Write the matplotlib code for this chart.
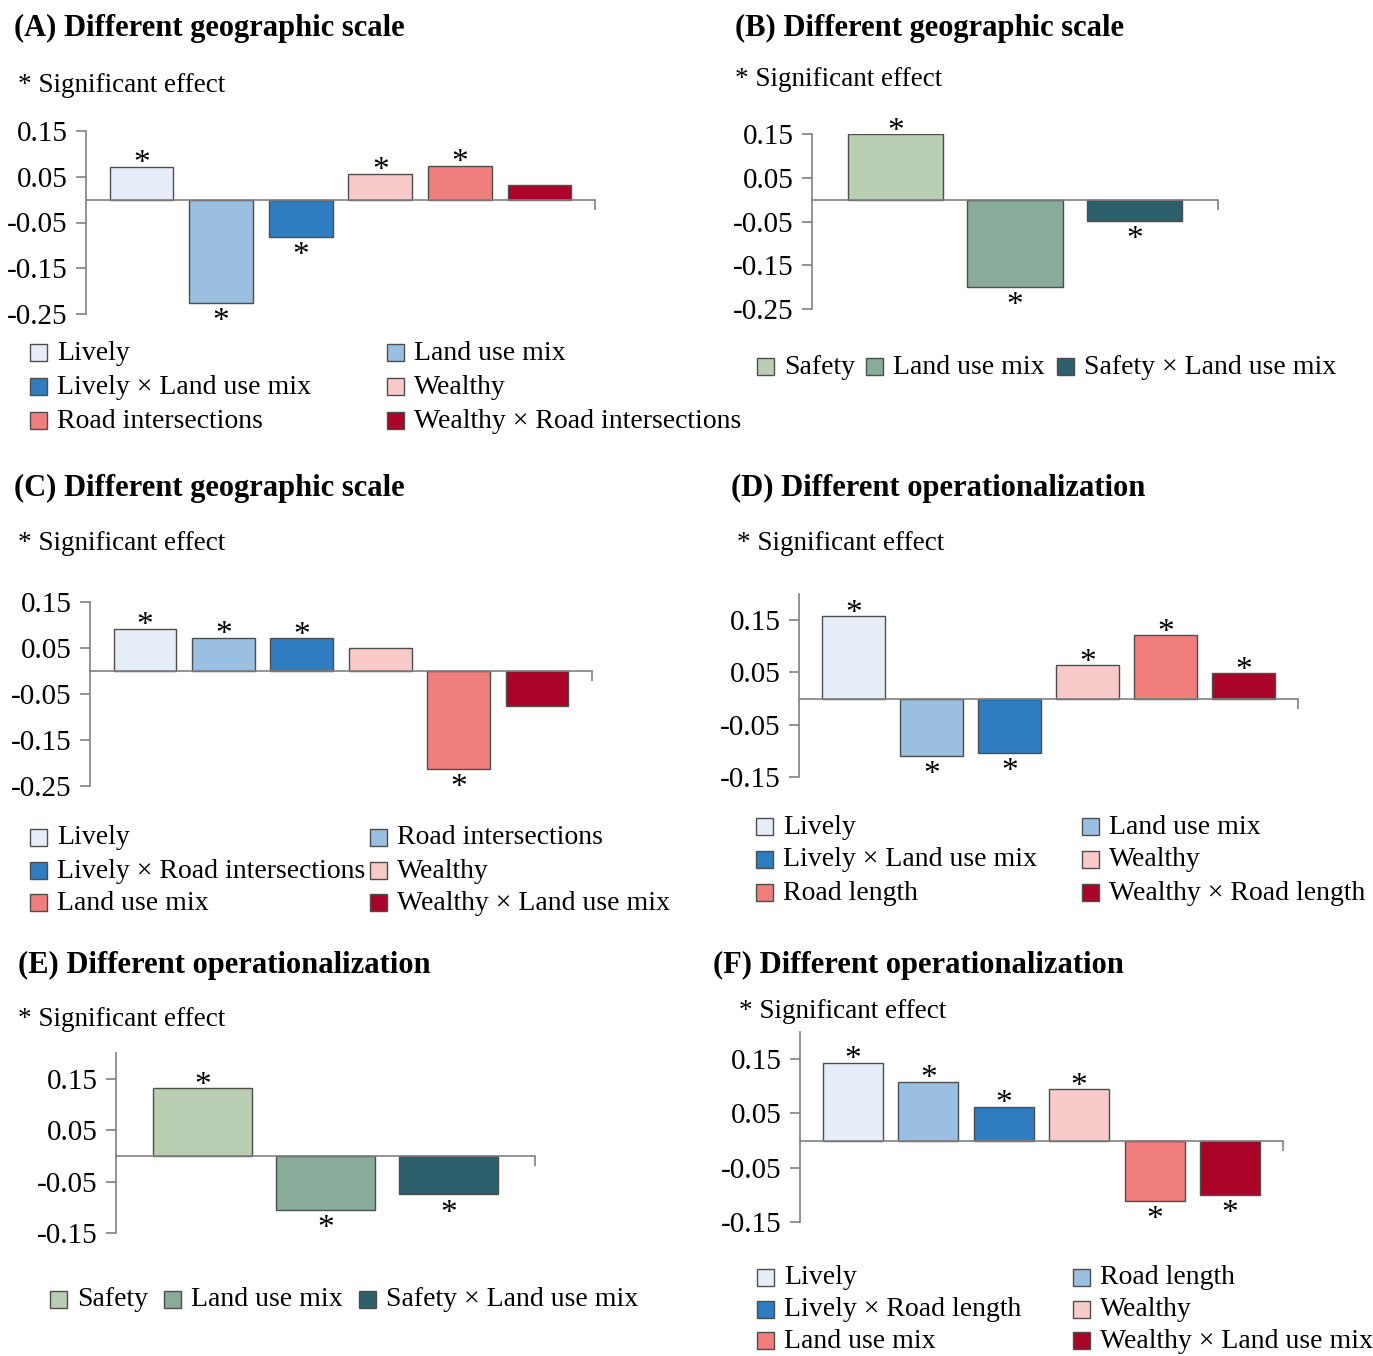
import matplotlib
matplotlib.use("Agg")
import matplotlib.pyplot as plt
from matplotlib.patches import Rectangle

plt.rcParams['font.family'] = ['Liberation Serif', 'DejaVu Serif']

W, H = 1373, 1356

# ---- data ----
blue_red = ['#E6EDF8', '#9BBFE0', '#2F7CC1', '#F8CACA', '#EF7E7C', '#AA0428']
greens = ['#BACEB3', '#88AB9A', '#2E5F6C']

a_labels = ['Lively', 'Land use mix', 'Lively × Land use mix', 'Wealthy',
            'Road intersections', 'Wealthy × Road intersections']
a_values = [0.072, -0.225, -0.082, 0.057, 0.074, 0.033]
a_sig = [True, True, True, True, True, False]

b_labels = ['Safety', 'Land use mix', 'Safety × Land use mix']
b_values = [0.149, -0.200, -0.049]
b_sig = [True, True, True]

c_labels = ['Lively', 'Road intersections', 'Lively × Road intersections', 'Wealthy',
            'Land use mix', 'Wealthy × Land use mix']
c_values = [0.092, 0.072, 0.071, 0.050, -0.212, -0.076]
c_sig = [True, True, True, False, True, False]

d_labels = ['Lively', 'Land use mix', 'Lively × Land use mix', 'Wealthy',
            'Road length', 'Wealthy × Road length']
d_values = [0.158, -0.109, -0.104, 0.064, 0.121, 0.049]
d_sig = [True, True, True, True, True, True]

e_labels = ['Safety', 'Land use mix', 'Safety × Land use mix']
e_values = [0.131, -0.105, -0.075]
e_sig = [True, True, True]

f_labels = ['Lively', 'Road length', 'Lively × Road length', 'Wealthy',
            'Land use mix', 'Wealthy × Land use mix']
f_values = [0.143, 0.108, 0.062, 0.095, -0.112, -0.101]
f_sig = [True, True, True, True, True, True]

titles = ['(A) Different geographic scale', '(B) Different geographic scale',
          '(C) Different geographic scale', '(D) Different operationalization',
          '(E) Different operationalization', '(F) Different operationalization']

FS_TITLE = 22
FS_SIG = 19.5
FS_LEG = 20
FS_TICK = 21
FS_STAR = 24
GREY = '#808080'

fig = plt.figure(figsize=(W / 100, H / 100), dpi=100)


def fx(x):
    return x / W


def fy(y):
    return 1 - y / H


def panel(rect, ylim, yticks, values, sig, colors):
    x0, y0, x1, y1 = rect  # pixel box: left, top, right, bottom
    ax = fig.add_axes([fx(x0), fy(y1), fx(x1) - fx(x0), fy(y0) - fy(y1)])
    n = len(values)
    xs = list(range(n))
    ax.bar(xs, values, width=0.8, color=colors[:n], edgecolor='#4d4d4d', linewidth=1.0, zorder=2)
    ax.set_xlim(-0.7, n - 0.3)
    ax.set_ylim(*ylim)
    ax.set_yticks(yticks)
    ax.set_yticklabels(['%.2f' % t for t in yticks], fontsize=FS_TICK)
    for s in ['top', 'right']:
        ax.spines[s].set_visible(False)
    ax.spines['left'].set_color(GREY)
    ax.spines['left'].set_linewidth(1.2)
    ax.spines['bottom'].set_position(('data', 0))
    ax.spines['bottom'].set_color(GREY)
    ax.spines['bottom'].set_linewidth(1.2)
    ax.set_xticks([n - 0.3])
    ax.set_xticklabels([''])
    ax.tick_params(axis='both', colors=GREY, length=7, width=1.2, direction='out')
    ax.tick_params(axis='y', labelcolor='black', pad=6)
    ax.patch.set_alpha(0)
    for i, (v, s) in enumerate(zip(values, sig)):
        if not s:
            continue
        off = -4 if v >= 0 else -19.5
        ax.annotate('*', (i, v), xytext=(0, off), textcoords='offset points',
                    ha='center', va='baseline', fontsize=FS_STAR)
    return ax


def legend(labels, colors, positions):
    for lab, col, (x, y) in zip(labels, colors, positions):
        fig.patches.append(Rectangle((fx(x), fy(y + 8)), 17 / W, 17 / H, transform=fig.transFigure,
                                     facecolor=col, edgecolor='#4d4d4d', linewidth=1.0))
        fig.text(fx(x + 27), fy(y), lab, fontsize=FS_LEG, va='center', ha='left')


def header(title, tx, ty, sx, sy):
    fig.text(fx(tx), fy(ty), title, fontsize=FS_TITLE, fontweight='bold', va='center', ha='left')
    fig.text(fx(sx), fy(sy), '* Significant effect', fontsize=FS_SIG, va='center', ha='left')


ab_ticks = [-0.25, -0.15, -0.05, 0.05, 0.15]
df_ticks = [-0.15, -0.05, 0.05, 0.15]

# (A)
header(titles[0], 14, 28, 18, 85)
panel((86, 131, 595, 314), (-0.25, 0.15), ab_ticks, a_values, a_sig, blue_red)
legend(a_labels, blue_red, [(30, 353), (387, 353), (30, 387), (387, 387), (30, 421), (387, 421)])

# (B)
header(titles[1], 735, 28, 735, 80)
panel((812, 134, 1218, 309), (-0.25, 0.15), ab_ticks, b_values, b_sig, greens)
legend(b_labels, greens, [(757, 367), (866, 367), (1057, 367)])

# (C)
header(titles[2], 14, 488, 18, 544)
panel((90, 602, 592, 786), (-0.25, 0.15), ab_ticks, c_values, c_sig, blue_red)
legend(c_labels, blue_red, [(30, 838), (370, 838), (30, 871), (370, 871), (30, 903), (370, 903)])

# (D)
header(titles[3], 731, 488, 737, 544)
panel((799, 594, 1298, 777), (-0.15, 0.2), df_ticks, d_values, d_sig, blue_red)
legend(d_labels, blue_red, [(756, 827), (1082, 827), (756, 860), (1082, 860), (756, 893), (1082, 893)])

# (E)
header(titles[4], 18, 965, 18, 1019)
panel((116, 1053, 535, 1233), (-0.15, 0.2), df_ticks, e_values, e_sig, greens)
legend(e_labels, greens, [(50, 1300), (164, 1300), (359, 1300)])

# (F)
header(titles[5], 713, 965, 739, 1012)
panel((800, 1032, 1283, 1222), (-0.15, 0.2), df_ticks, f_values, f_sig, blue_red)
legend(f_labels, blue_red, [(757, 1278), (1073, 1278), (757, 1310), (1073, 1310), (757, 1341), (1073, 1341)])

fig.savefig('out.png', dpi=100)
